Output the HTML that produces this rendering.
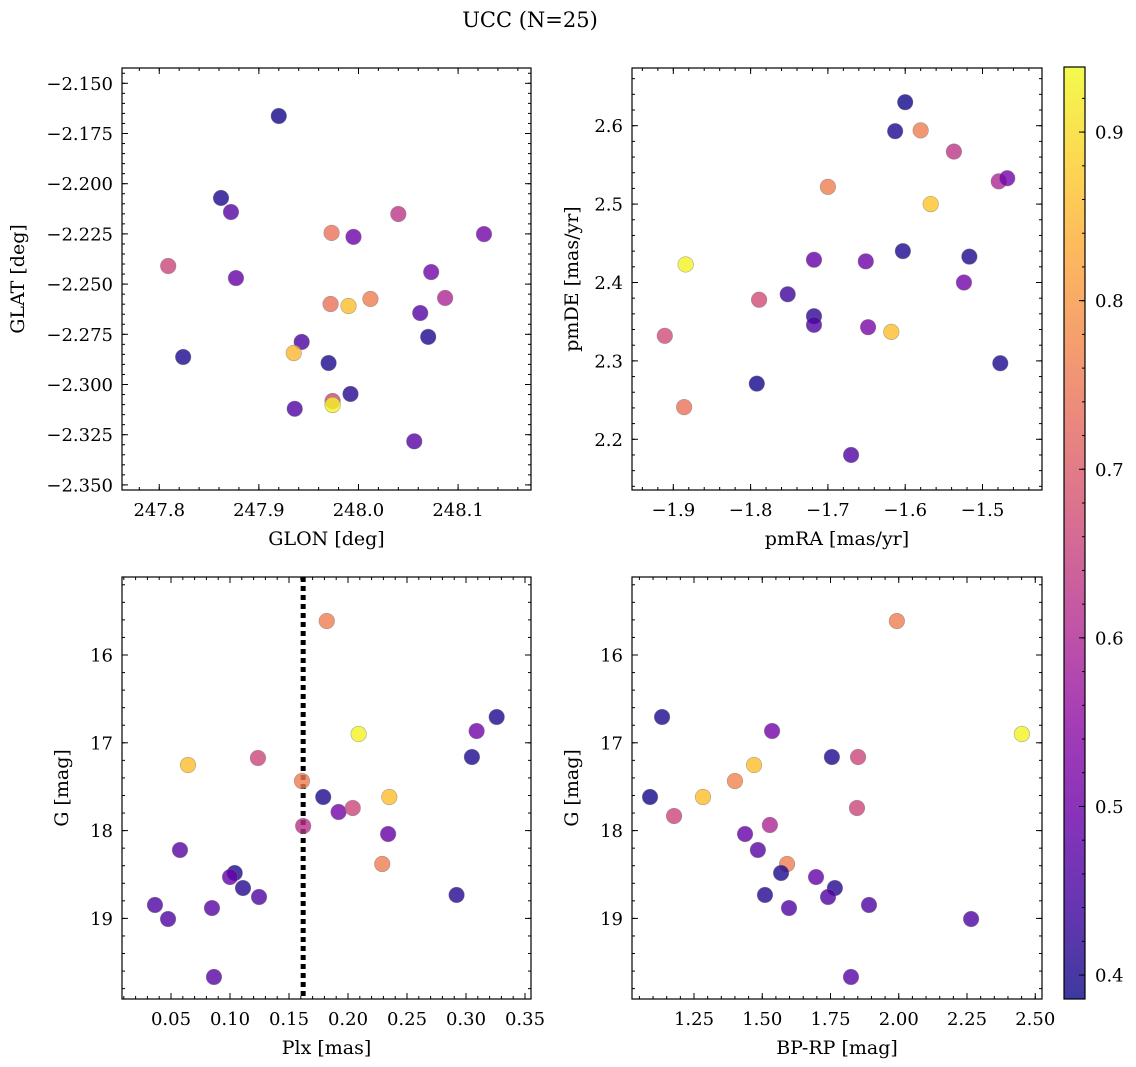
<!DOCTYPE html>
<html><head><meta charset="utf-8"><title>UCC (N=25)</title>
<style>
html,body{margin:0;padding:0;background:#fff;}
svg{display:block;font-family:"DejaVu Serif","Liberation Serif",serif;}
</style></head>
<body>
<svg id="fig" width="1136" height="1067" viewBox="0 0 1136 1067" xmlns="http://www.w3.org/2000/svg">
<text x="530" y="27" font-size="21" text-anchor="middle">UCC (N=25)</text>
</svg>
<script>
// ---- Panel 1: GLON vs GLAT ----
const glon1 = [247.920,247.862,247.872,247.809,247.877,247.824,247.973,247.995,248.040,248.126,248.073,248.087,247.972,247.990,248.012,247.943,247.935,247.970,248.062,248.070,247.936,247.974,247.974,247.992,248.056];
const glat1 = [-2.1663,-2.2071,-2.2141,-2.2410,-2.2470,-2.2863,-2.2245,-2.2265,-2.2151,-2.2251,-2.2440,-2.2569,-2.2599,-2.2609,-2.2574,-2.2788,-2.2843,-2.2893,-2.2644,-2.2763,-2.3121,-2.3082,-2.3102,-2.3047,-2.3283];
const col1 = [0.39,0.40,0.47,0.66,0.49,0.40,0.74,0.50,0.63,0.51,0.51,0.60,0.74,0.86,0.76,0.45,0.85,0.40,0.47,0.40,0.46,0.66,0.93,0.41,0.47];
// ---- Panel 2: pmRA vs pmDE ----
const pmra2 = [-1.600,-1.613,-1.580,-1.537,-1.479,-1.468,-1.700,-1.567,-1.884,-1.718,-1.651,-1.603,-1.517,-1.524,-1.789,-1.752,-1.718,-1.718,-1.648,-1.618,-1.911,-1.477,-1.792,-1.886,-1.670];
const pmde2 = [2.630,2.593,2.594,2.567,2.529,2.533,2.522,2.500,2.423,2.429,2.427,2.440,2.433,2.400,2.378,2.385,2.357,2.346,2.343,2.337,2.332,2.297,2.271,2.241,2.180];
const col2 = [0.39,0.40,0.76,0.63,0.60,0.51,0.76,0.87,0.93,0.49,0.50,0.40,0.40,0.51,0.67,0.44,0.42,0.46,0.52,0.86,0.67,0.40,0.39,0.74,0.46];
// ---- Panel 3: Plx vs G ----
const plx3 = [0.182,0.0644,0.1237,0.161,0.162,0.179,0.192,0.204,0.209,0.235,0.234,0.229,0.309,0.305,0.326,0.292,0.0576,0.104,0.100,0.111,0.1246,0.0364,0.0475,0.0847,0.0864];
const g3 = [15.613,17.253,17.173,17.435,17.948,17.617,17.788,17.743,16.900,17.617,18.039,18.380,16.866,17.162,16.706,18.733,18.221,18.483,18.529,18.654,18.756,18.847,19.007,18.882,19.667];
const col3 = [0.76,0.86,0.66,0.76,0.62,0.40,0.51,0.66,0.93,0.86,0.49,0.76,0.51,0.40,0.40,0.41,0.47,0.40,0.49,0.41,0.46,0.46,0.46,0.47,0.47];
const plxLine = [0.162];
// ---- Panel 4: BP-RP vs G ----
const bprp4 = [1.993,2.451,1.133,1.089,1.177,1.283,1.400,1.470,1.536,1.755,1.851,1.847,1.528,1.437,1.484,1.591,1.569,1.697,1.766,1.510,1.598,1.741,1.891,2.265,1.825];
const g4 = [15.613,16.900,16.706,17.617,17.834,17.617,17.435,17.253,16.866,17.162,17.162,17.743,17.936,18.039,18.221,18.380,18.483,18.529,18.654,18.733,18.882,18.756,18.847,19.007,19.667];
const col4 = [0.76,0.93,0.40,0.39,0.66,0.86,0.77,0.86,0.51,0.40,0.66,0.66,0.60,0.49,0.47,0.76,0.40,0.49,0.41,0.41,0.46,0.46,0.46,0.46,0.47];
// colorbar
const cbTicks = [0.4,0.5,0.6,0.7,0.8,0.9];

const NS = "http://www.w3.org/2000/svg";
const svg = document.getElementById('fig');
const VMIN = 0.3858, VMAX = 0.9386;
const PLASMA = ["#0d0887","#41049d","#6a00a8","#8f0da4","#b12a90","#cc4778","#e16462","#f2844b","#fca636","#fcce25","#f0f921"];
function hex(h){return [parseInt(h.substr(1,2),16),parseInt(h.substr(3,2),16),parseInt(h.substr(5,2),16)];}
function cmap(v){
  let t=(v-VMIN)/(VMAX-VMIN); t=Math.max(0,Math.min(1,t));
  const f=t*10, i=Math.min(9,Math.floor(f)), r=f-i;
  const a=hex(PLASMA[i]), b=hex(PLASMA[i+1]);
  const c=a.map((x,k)=>Math.round(x+(b[k]-x)*r));
  return "rgb("+c.join(",")+")";
}
function el(tag, attrs, parent){
  const e=document.createElementNS(NS,tag);
  for(const k in attrs) e.setAttribute(k,attrs[k]);
  (parent||svg).appendChild(e); return e;
}
function fmt(v,d){const s=v.toFixed(d); return s.replace("-","\u2212");}

function panel(o){
  const g=el('g',{});
  
  
  const sx=v=>o.x0+(v-o.xd[0])/(o.xd[1]-o.xd[0])*(o.x1-o.x0);
  const sy=v=>o.y0+(v-o.yd[0])/(o.yd[1]-o.yd[0])*(o.y1-o.y0);
  const tg=el('g',{stroke:"#000","stroke-width":1},g);
  function ticksX(step,len,labels){
    const s=Math.ceil(Math.min(...o.xd)/step-1e-6);
    const e=Math.floor(Math.max(...o.xd)/step+1e-6);
    for(let i=s;i<=e;i++){
      const v=i*step, x=sx(v);
      el('line',{x1:x,y1:o.y1,x2:x,y2:o.y1-len},tg);
      el('line',{x1:x,y1:o.y0,x2:x,y2:o.y0+len},tg);
      if(labels){
        const t=el('text',{x:x,y:o.y1+26,"font-size":18,"text-anchor":"middle",stroke:"none",fill:"#000"},g);
        t.textContent=fmt(v,o.xdec);
        
        
      }
    }
  }
  function ticksY(step,len,labels){
    const s=Math.ceil(Math.min(...o.yd)/step-1e-6);
    const e=Math.floor(Math.max(...o.yd)/step+1e-6);
    for(let i=s;i<=e;i++){
      const v=i*step, y=sy(v);
      el('line',{x1:o.x0,y1:y,x2:o.x0+len,y2:y},tg);
      el('line',{x1:o.x1,y1:y,x2:o.x1-len,y2:y},tg);
      if(labels){
        const t=el('text',{x:o.x0-9,y:y+6.5,"font-size":18,"text-anchor":"end",stroke:"none",fill:"#000"},g);
        t.textContent=fmt(v,o.ydec);
        
        
      }
    }
  }
  ticksX(o.xmaj,6,true); ticksX(o.xmin,3,false);
  ticksY(o.ymaj,6,true); ticksY(o.ymin,3,false);
  (o.vlines||[]).forEach(v=>{
    const l=el('line',{x1:sx(v),y1:o.y0,x2:sx(v),y2:o.y1,stroke:"#000","stroke-width":5,"stroke-dasharray":"5 4"},g);
    
    
  });
  for(let i=0;i<o.xs.length;i++){
    const c=el('circle',{cx:sx(o.xs[i]),cy:sy(o.ys[i]),r:7.8,fill:cmap(o.cs[i]),"fill-opacity":0.8,stroke:"#777","stroke-opacity":0.6,"stroke-width":0.6},g);
    
    
  }
  const r=el('rect',{x:o.x0,y:o.y0,width:o.x1-o.x0,height:o.y1-o.y0,fill:"none",stroke:"#000","stroke-width":1.2},g);
  
  
  const xl=el('text',{x:(o.x0+o.x1)/2,y:o.y1+55,"font-size":19,"text-anchor":"middle"},g);
  xl.textContent=o.xlabel;
  
  
  const yl=el('text',{x:o.ylx,y:(o.y0+o.y1)/2,"font-size":19,"text-anchor":"middle",transform:"rotate(-90 "+o.ylx+" "+((o.y0+o.y1)/2)+")"},g);
  yl.textContent=o.ylabel;
  
  
}

panel({name:"glon-glat-panel",x0:122,x1:531,y0:68,y1:490,xd:[247.7626,248.1732],yd:[-2.14238,-2.35254],
  xmaj:0.1,xmin:0.02,ymaj:0.025,ymin:0.005,xdec:1,ydec:3,xs:glon1,ys:glat1,cs:col1,
  xlabel:"GLON [deg]",ylabel:"GLAT [deg]",ylx:24});
panel({name:"pm-panel",x0:632,x1:1042,y0:68,y1:490,xd:[-1.95343,-1.42303],yd:[2.6736,2.1353],
  xmaj:0.1,xmin:0.02,ymaj:0.1,ymin:0.02,xdec:1,ydec:1,xs:pmra2,ys:pmde2,cs:col2,
  xlabel:"pmRA [mas/yr]",ylabel:"pmDE [mas/yr]",ylx:578});
panel({name:"plx-g-panel",x0:122,x1:531,y0:577,y1:999,xd:[0.00847,0.35508],yd:[15.1116,19.918],
  xmaj:0.05,xmin:0.01,ymaj:1,ymin:0.2,xdec:2,ydec:0,xs:plx3,ys:g3,cs:col3,vlines:plxLine,
  xlabel:"Plx [mas]",ylabel:"G [mag]",ylx:68});
panel({name:"cmd-panel",x0:632,x1:1042,y0:577,y1:999,xd:[1.0229,2.5247],yd:[15.1116,19.918],
  xmaj:0.25,xmin:0.05,ymaj:1,ymin:0.2,xdec:2,ydec:0,xs:bprp4,ys:g4,cs:col4,
  xlabel:"BP-RP [mag]",ylabel:"G [mag]",ylx:578});

(function(){
  const x0=1064,x1=1085,y0=67,y1=999;
  const g=el('g',{});
  
  
  const defs=el('defs',{},g);
  const lg=el('linearGradient',{id:"cbg",x1:0,y1:1,x2:0,y2:0},defs);
  PLASMA.forEach((c,i)=>el('stop',{offset:(i*10)+"%","stop-color":c,"stop-opacity":0.8},lg));
  el('rect',{x:x0,y:y0,width:x1-x0,height:y1-y0,fill:"url(#cbg)"},g);
  const sy=v=>y1-(v-VMIN)/(VMAX-VMIN)*(y1-y0);
  for(let i=Math.ceil(VMIN/0.02);i<=Math.floor(VMAX/0.02);i++){
    const y=sy(i*0.02);
    el('line',{x1:x1,y1:y,x2:x1-3,y2:y,stroke:"#000","stroke-width":1},g);
  }
  cbTicks.forEach(v=>{
    const y=sy(v);
    el('line',{x1:x1,y1:y,x2:x1-6,y2:y,stroke:"#000","stroke-width":1},g);
    const t=el('text',{x:x1+10,y:y+6.5,"font-size":18},g);
    t.textContent=v.toFixed(1);
    
    
  });
  el('rect',{x:x0,y:y0,width:x1-x0,height:y1-y0,fill:"none",stroke:"#000","stroke-width":1.2},g);
})();
</script>
</body></html>
